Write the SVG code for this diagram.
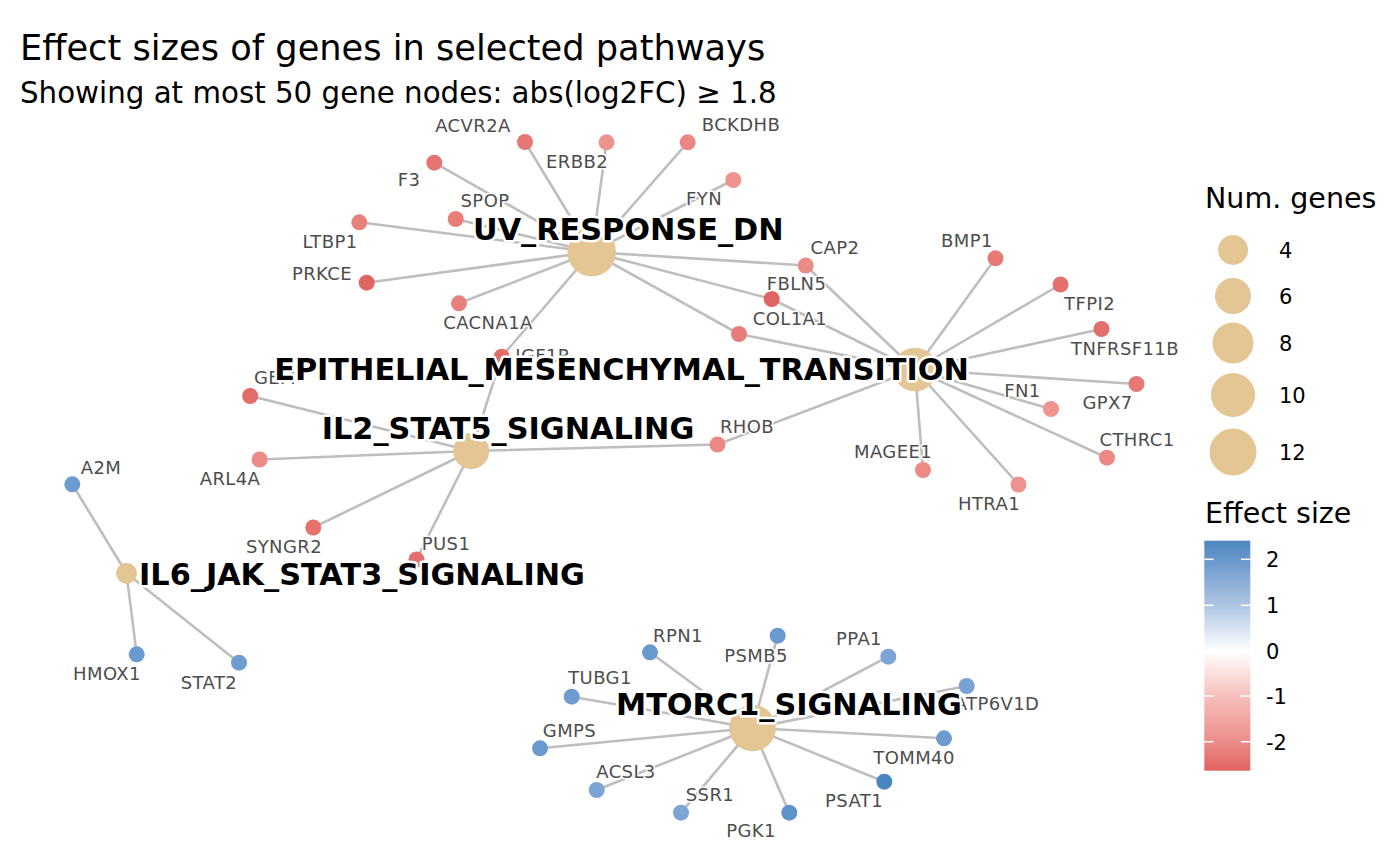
<svg xmlns="http://www.w3.org/2000/svg" width="1400" height="866" viewBox="0 0 1400 866">
<defs>
<linearGradient id="cbar" x1="0" y1="0" x2="0" y2="1">
<stop offset="0" stop-color="#4E86BF"/>
<stop offset="0.09" stop-color="#6B99CC"/>
<stop offset="0.285" stop-color="#AFC6E3"/>
<stop offset="0.48" stop-color="#FFFFFF"/>
<stop offset="0.675" stop-color="#F6C0BD"/>
<stop offset="0.87" stop-color="#EB8E8A"/>
<stop offset="1" stop-color="#E1635F"/>
</linearGradient>
</defs>
<style>
.e{stroke:#BEBEBE;stroke-width:2.6;fill:none;stroke-linecap:round}
.g text{font-family:"DejaVu Sans",sans-serif;font-size:18px;letter-spacing:0.4px;fill:#4D4D4D;text-anchor:middle;stroke:#FFFFFF;stroke-width:3;paint-order:stroke;stroke-linejoin:round}
.h circle{fill:#E4C594}
.h text{font-family:"DejaVu Sans",sans-serif;font-weight:bold;font-size:30.3px;fill:#000000;text-anchor:middle;stroke:#FFFFFF;stroke-width:5;paint-order:stroke;stroke-linejoin:round}
.t{font-family:"DejaVu Sans",sans-serif;fill:#000000}
.lg{font-family:"DejaVu Sans",sans-serif;font-size:21px;fill:#000000}
.sz{fill:#E4C594}
.tk{stroke:#FFFFFF;stroke-width:1.5}
</style>
<rect width="1400" height="866" fill="#FFFFFF"/>
<text class="t" x="20" y="60" font-size="35.2">Effect sizes of genes in selected pathways</text>
<text class="t" x="20" y="103" font-size="29.3">Showing at most 50 gene nodes: abs(log2FC) ≥ 1.8</text>

<g id="edges">
<line class="e" x1="591.7" y1="252" x2="525" y2="142"/>
<line class="e" x1="591.7" y1="252" x2="606.5" y2="142.3"/>
<line class="e" x1="591.7" y1="252" x2="687.7" y2="142.3"/>
<line class="e" x1="591.7" y1="252" x2="434.3" y2="162.7"/>
<line class="e" x1="591.7" y1="252" x2="733.3" y2="180"/>
<line class="e" x1="591.7" y1="252" x2="455.7" y2="219"/>
<line class="e" x1="591.7" y1="252" x2="359.3" y2="222.3"/>
<line class="e" x1="591.7" y1="252" x2="366.7" y2="282.7"/>
<line class="e" x1="591.7" y1="252" x2="459" y2="303.3"/>
<line class="e" x1="591.7" y1="252" x2="501.7" y2="356.7"/>
<line class="e" x1="591.7" y1="252" x2="805.7" y2="265.5"/>
<line class="e" x1="591.7" y1="252" x2="771.7" y2="299"/>
<line class="e" x1="591.7" y1="252" x2="739" y2="334"/>
<line class="e" x1="915" y1="369.5" x2="995.5" y2="258.3"/>
<line class="e" x1="915" y1="369.5" x2="1060.5" y2="284.5"/>
<line class="e" x1="915" y1="369.5" x2="1101.5" y2="329"/>
<line class="e" x1="915" y1="369.5" x2="1136.5" y2="384"/>
<line class="e" x1="915" y1="369.5" x2="1051" y2="409"/>
<line class="e" x1="915" y1="369.5" x2="1107" y2="457.7"/>
<line class="e" x1="915" y1="369.5" x2="1018.5" y2="484.5"/>
<line class="e" x1="915" y1="369.5" x2="923" y2="470"/>
<line class="e" x1="915" y1="369.5" x2="717.5" y2="444.5"/>
<line class="e" x1="915" y1="369.5" x2="805.7" y2="265.5"/>
<line class="e" x1="915" y1="369.5" x2="771.7" y2="299"/>
<line class="e" x1="915" y1="369.5" x2="739" y2="334"/>
<line class="e" x1="471.2" y1="451" x2="250.2" y2="396"/>
<line class="e" x1="471.2" y1="451" x2="259.6" y2="459.5"/>
<line class="e" x1="471.2" y1="451" x2="313.3" y2="527.5"/>
<line class="e" x1="471.2" y1="451" x2="416.5" y2="559.5"/>
<line class="e" x1="471.2" y1="451" x2="501.7" y2="356.7"/>
<line class="e" x1="471.2" y1="451" x2="717.5" y2="444.5"/>
<line class="e" x1="126.5" y1="573.3" x2="72.3" y2="484.3"/>
<line class="e" x1="126.5" y1="573.3" x2="136.7" y2="654.3"/>
<line class="e" x1="126.5" y1="573.3" x2="239" y2="662.7"/>
<line class="e" x1="752.5" y1="728" x2="650" y2="652.3"/>
<line class="e" x1="752.5" y1="728" x2="777.7" y2="635.7"/>
<line class="e" x1="752.5" y1="728" x2="888.3" y2="656.7"/>
<line class="e" x1="752.5" y1="728" x2="571.7" y2="696.7"/>
<line class="e" x1="752.5" y1="728" x2="966.7" y2="686"/>
<line class="e" x1="752.5" y1="728" x2="540" y2="748.3"/>
<line class="e" x1="752.5" y1="728" x2="944" y2="738.3"/>
<line class="e" x1="752.5" y1="728" x2="596.7" y2="790"/>
<line class="e" x1="752.5" y1="728" x2="884.3" y2="781.7"/>
<line class="e" x1="752.5" y1="728" x2="681" y2="812.7"/>
<line class="e" x1="752.5" y1="728" x2="789.3" y2="812.7"/>
</g>

<g id="node-ACVR2A" class="g"><circle cx="525" cy="142" r="8" fill="#E57874"/><text x="473" y="131.5">ACVR2A</text></g>
<g id="node-ERBB2" class="g"><circle cx="606.5" cy="142.3" r="8" fill="#EE948F"/><text x="577" y="168">ERBB2</text></g>
<g id="node-BCKDHB" class="g"><circle cx="687.7" cy="142.3" r="8" fill="#EA8783"/><text x="741" y="131">BCKDHB</text></g>
<g id="node-F3" class="g"><circle cx="434.3" cy="162.7" r="8" fill="#E57471"/><text x="409" y="185.5">F3</text></g>
<g id="node-FYN" class="g"><circle cx="733.3" cy="180" r="8" fill="#EE938F"/><text x="704" y="205">FYN</text></g>
<g id="node-SPOP" class="g"><circle cx="455.7" cy="219" r="8" fill="#E87E7A"/><text x="485" y="207">SPOP</text></g>
<g id="node-LTBP1" class="g"><circle cx="359.3" cy="222.3" r="8" fill="#E8807C"/><text x="330" y="248">LTBP1</text></g>
<g id="node-PRKCE" class="g"><circle cx="366.7" cy="282.7" r="8" fill="#E06462"/><text x="322" y="280">PRKCE</text></g>
<g id="node-CACNA1A" class="g"><circle cx="459" cy="303.3" r="8" fill="#E8807C"/><text x="488" y="329">CACNA1A</text></g>
<g id="node-IGF1R" class="g"><circle cx="501.7" cy="356.7" r="8" fill="#E26C69"/><text x="543" y="362">IGF1R</text></g>
<g id="node-CAP2" class="g"><circle cx="805.7" cy="265.5" r="8" fill="#EC8C88"/><text x="835" y="253.5">CAP2</text></g>
<g id="node-FBLN5" class="g"><circle cx="771.7" cy="299" r="8" fill="#E06462"/><text x="796.5" y="289.5">FBLN5</text></g>
<g id="node-COL1A1" class="g"><circle cx="739" cy="334" r="8" fill="#E87C78"/><text x="790" y="325">COL1A1</text></g>
<g id="node-BMP1" class="g"><circle cx="995.5" cy="258.3" r="8" fill="#E67A76"/><text x="967" y="247">BMP1</text></g>
<g id="node-TFPI2" class="g"><circle cx="1060.5" cy="284.5" r="8" fill="#E3706D"/><text x="1089.5" y="310">TFPI2</text></g>
<g id="node-TNFRSF11B" class="g"><circle cx="1101.5" cy="329" r="8" fill="#E36E6B"/><text x="1125" y="354.5">TNFRSF11B</text></g>
<g id="node-GPX7" class="g"><circle cx="1136.5" cy="384" r="8" fill="#E67976"/><text x="1107.5" y="408.5">GPX7</text></g>
<g id="node-FN1" class="g"><circle cx="1051" cy="409" r="8" fill="#EE9490"/><text x="1022.5" y="396.5">FN1</text></g>
<g id="node-CTHRC1" class="g"><circle cx="1107" cy="457.7" r="8" fill="#EC8985"/><text x="1137" y="445.5">CTHRC1</text></g>
<g id="node-HTRA1" class="g"><circle cx="1018.5" cy="484.5" r="8" fill="#EE928E"/><text x="989" y="510">HTRA1</text></g>
<g id="node-MAGEE1" class="g"><circle cx="923" cy="470" r="8" fill="#EC8A86"/><text x="893" y="458">MAGEE1</text></g>
<g id="node-RHOB" class="g"><circle cx="717.5" cy="444.5" r="8" fill="#EC8985"/><text x="747" y="433">RHOB</text></g>
<g id="node-GEM" class="g"><circle cx="250.2" cy="396" r="8" fill="#E26C69"/><text x="275" y="383.5">GEM</text></g>
<g id="node-ARL4A" class="g"><circle cx="259.6" cy="459.5" r="8" fill="#EC8A86"/><text x="230" y="484.5">ARL4A</text></g>
<g id="node-SYNGR2" class="g"><circle cx="313.3" cy="527.5" r="8" fill="#E5726F"/><text x="284" y="552.5">SYNGR2</text></g>
<g id="node-PUS1" class="g"><circle cx="416.5" cy="559.5" r="8" fill="#E3706D"/><text x="446" y="549.5">PUS1</text></g>
<g id="node-A2M" class="g"><circle cx="72.3" cy="484.3" r="8" fill="#6C9BCF"/><text x="101" y="473.5">A2M</text></g>
<g id="node-HMOX1" class="g"><circle cx="136.7" cy="654.3" r="8" fill="#6A9AD0"/><text x="107" y="680">HMOX1</text></g>
<g id="node-STAT2" class="g"><circle cx="239" cy="662.7" r="8" fill="#6F9DD0"/><text x="209" y="688.5">STAT2</text></g>
<g id="node-RPN1" class="g"><circle cx="650" cy="652.3" r="8" fill="#6A99CE"/><text x="678" y="641.5">RPN1</text></g>
<g id="node-PSMB5" class="g"><circle cx="777.7" cy="635.7" r="8" fill="#6A99CE"/><text x="756" y="661.5">PSMB5</text></g>
<g id="node-PPA1" class="g"><circle cx="888.3" cy="656.7" r="8" fill="#7CA4D4"/><text x="859" y="645">PPA1</text></g>
<g id="node-TUBG1" class="g"><circle cx="571.7" cy="696.7" r="8" fill="#6E9CD0"/><text x="600" y="683.5">TUBG1</text></g>
<g id="node-ATP6V1D" class="g"><circle cx="966.7" cy="686" r="8" fill="#78A2D4"/><text x="997" y="710">ATP6V1D</text></g>
<g id="node-GMPS" class="g"><circle cx="540" cy="748.3" r="8" fill="#6A99CE"/><text x="569.5" y="736.5">GMPS</text></g>
<g id="node-TOMM40" class="g"><circle cx="944" cy="738.3" r="8" fill="#6E9CD0"/><text x="914" y="764">TOMM40</text></g>
<g id="node-ACSL3" class="g"><circle cx="596.7" cy="790" r="8" fill="#7CA4D4"/><text x="626" y="777.5">ACSL3</text></g>
<g id="node-PSAT1" class="g"><circle cx="884.3" cy="781.7" r="8" fill="#4A86C0"/><text x="854" y="806.5">PSAT1</text></g>
<g id="node-SSR1" class="g"><circle cx="681" cy="812.7" r="8" fill="#7CA4D4"/><text x="710" y="801">SSR1</text></g>
<g id="node-PGK1" class="g"><circle cx="789.3" cy="812.7" r="8" fill="#5E92CA"/><text x="751" y="836.5">PGK1</text></g>

<g id="hub-IL6_JAK_STAT3_SIGNALING" class="h"><circle cx="126.5" cy="573.3" r="10.5"/><text x="362" y="584.5">IL6_JAK_STAT3_SIGNALING</text></g>
<g id="hub-IL2_STAT5_SIGNALING" class="h"><circle cx="471.2" cy="451" r="18"/><text x="508" y="438.5">IL2_STAT5_SIGNALING</text></g>
<g id="hub-MTORC1_SIGNALING" class="h"><circle cx="752.5" cy="728" r="23.3"/><text x="789" y="715">MTORC1_SIGNALING</text></g>
<g id="hub-EPITHELIAL_MESENCHYMAL_TRANSITION" class="h"><circle cx="915" cy="369.5" r="21.8"/><text x="621.5" y="380">EPITHELIAL_MESENCHYMAL_TRANSITION</text></g>
<g id="hub-UV_RESPONSE_DN" class="h"><circle cx="591.7" cy="252" r="24.3"/><text x="628.3" y="240">UV_RESPONSE_DN</text></g>

<g id="legend-size">
<text class="t" x="1205" y="208" font-size="28.5">Num. genes</text>
<circle class="sz" cx="1233" cy="250" r="15"/>
<circle class="sz" cx="1233" cy="296" r="18"/>
<circle class="sz" cx="1233" cy="343" r="20.5"/>
<circle class="sz" cx="1233" cy="395" r="22"/>
<circle class="sz" cx="1233" cy="452" r="23.5"/>
<text class="lg" x="1279" y="257.5">4</text>
<text class="lg" x="1279" y="303.5">6</text>
<text class="lg" x="1279" y="350.5">8</text>
<text class="lg" x="1279" y="402.5">10</text>
<text class="lg" x="1279" y="459.5">12</text>
</g>
<g id="legend-colour">
<text class="t" x="1205" y="523" font-size="28.5">Effect size</text>
<rect x="1204.3" y="540.7" width="46" height="230" fill="url(#cbar)"/>
<line class="tk" x1="1204.3" y1="559.3" x2="1213.5" y2="559.3"/><line class="tk" x1="1241" y1="559.3" x2="1250.3" y2="559.3"/>
<line class="tk" x1="1204.3" y1="605.3" x2="1213.5" y2="605.3"/><line class="tk" x1="1241" y1="605.3" x2="1250.3" y2="605.3"/>
<line class="tk" x1="1204.3" y1="650.8" x2="1213.5" y2="650.8"/><line class="tk" x1="1241" y1="650.8" x2="1250.3" y2="650.8"/>
<line class="tk" x1="1204.3" y1="696" x2="1213.5" y2="696"/><line class="tk" x1="1241" y1="696" x2="1250.3" y2="696"/>
<line class="tk" x1="1204.3" y1="741.7" x2="1213.5" y2="741.7"/><line class="tk" x1="1241" y1="741.7" x2="1250.3" y2="741.7"/>
<text class="lg" x="1266" y="567">2</text>
<text class="lg" x="1266" y="613">1</text>
<text class="lg" x="1266" y="658.5">0</text>
<text class="lg" x="1266" y="703.5">-1</text>
<text class="lg" x="1266" y="749.5">-2</text>
</g>
</svg>
